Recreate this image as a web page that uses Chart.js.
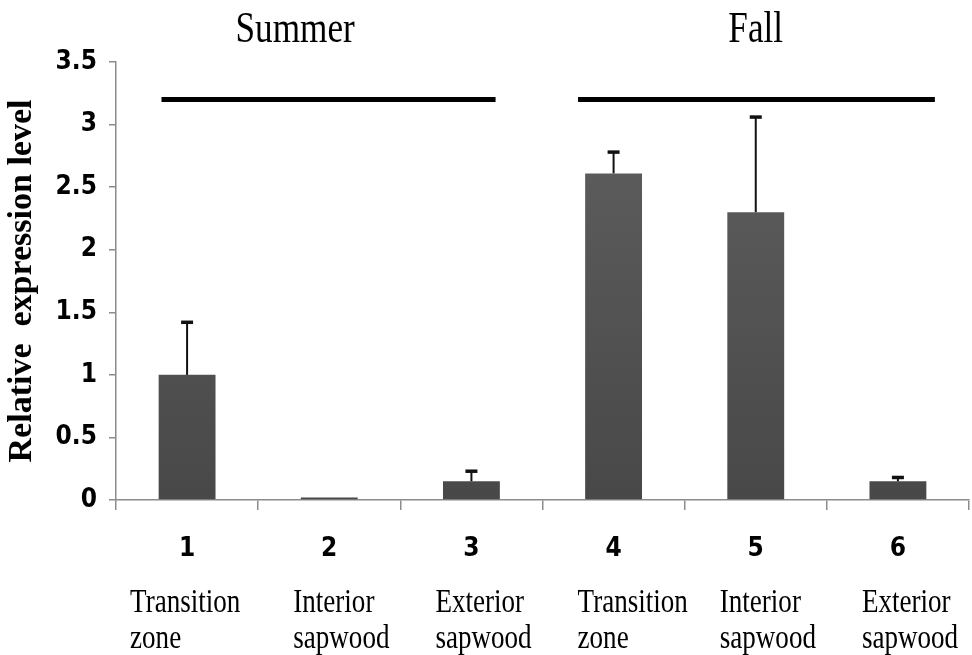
<!DOCTYPE html>
<html>
<head>
<meta charset="utf-8">
<title>Relative expression level</title>
<script src="https://cdn.jsdelivr.net/npm/chart.js@4"></script>
<style>
    body { margin: 0; background: #fff; }
    #chart { display: block; }
</style>
</head>
<body>
<canvas id="chart" width="972" height="655"></canvas>
<script>
// Data
const sampleNumbers = ['1', '2', '3', '4', '5', '6'];
const sampleNames = [
    ['Transition', 'zone'],
    ['Interior', 'sapwood'],
    ['Exterior', 'sapwood'],
    ['Transition', 'zone'],
    ['Interior', 'sapwood'],
    ['Exterior', 'sapwood']
];
const expressionLevel = [1.0, 0.02, 0.15, 2.61, 2.30, 0.15];
const errorPlus = [0.42, 0, 0.08, 0.17, 0.76, 0.03];
const yTicks = [0, 0.5, 1, 1.5, 2, 2.5, 3, 3.5];

// Season groups: bracket from / to (category units) and height (value units)
const seasonNames = ['Summer', 'Fall'];
const seasonFrom = [-0.18, 2.75];
const seasonTo = [2.17, 5.26];
const seasonLevel = [3.2, 3.2];
const seasonTitleAt = [0.76, 4.0];

document.addEventListener('DOMContentLoaded', function() {
    const ctx = document.getElementById('chart').getContext('2d');
    const narrowBold = '"Liberation Sans Narrow", "DejaVu Sans Condensed", sans-serif';
    const serif = '"Liberation Serif", "DejaVu Serif", serif';
    const axisColor = '#8c8c8c';

    // Draw text squeezed horizontally, like the original picture
    function squeezedText(c, text, x, y, sx, align) {
        c.save();
        c.translate(x, y);
        c.scale(sx, 1);
        c.textAlign = align;
        c.fillText(text, 0, 0);
        c.restore();
    }

    // Upper error bars with caps
    const errorBars = {
        id: 'errorBars',
        afterDatasetsDraw(chart) {
            const c = chart.ctx;
            const meta = chart.getDatasetMeta(0);
            const y = chart.scales.y;
            c.save();
            c.strokeStyle = '#111';
            meta.data.forEach(function(bar, i) {
                if (!errorPlus[i]) return;
                const top = y.getPixelForValue(expressionLevel[i] + errorPlus[i]);
                c.lineWidth = 2;
                c.beginPath();
                c.moveTo(bar.x, bar.y);
                c.lineTo(bar.x, top);
                c.stroke();
                c.lineWidth = 3.5;
                c.beginPath();
                c.moveTo(bar.x - 6, top);
                c.lineTo(bar.x + 6, top);
                c.stroke();
            });
            c.restore();
        }
    };

    // Season brackets and titles, plus the two-line sample names
    const annotations = {
        id: 'annotations',
        afterDraw(chart) {
            const c = chart.ctx;
            const x = chart.scales.x;
            const y = chart.scales.y;
            const area = chart.chartArea;
            c.save();
            c.fillStyle = '#000';
            c.strokeStyle = '#000';
            c.lineWidth = 5;
            seasonNames.forEach(function(name, i) {
                const py = y.getPixelForValue(seasonLevel[i]);
                c.beginPath();
                c.moveTo(x.getPixelForValue(seasonFrom[i]), py);
                c.lineTo(x.getPixelForValue(seasonTo[i]), py);
                c.stroke();
                c.font = '44px ' + serif;
                squeezedText(c, name, x.getPixelForValue(seasonTitleAt[i]), area.top - 20, 0.8, 'center');
            });

            c.font = '33px ' + serif;
            sampleNames.forEach(function(lines, i) {
                let left = x.getPixelForValue(i) - 36;
                if (i === 0) left -= 21;
                lines.forEach(function(line, k) {
                    squeezedText(c, line, left, area.bottom + 112 + k * 36, 0.82, 'left');
                });
            });
            c.restore();
        }
    };

    function barFill(context) {
        const area = context.chart.chartArea;
        if (!area) return '#555555';
        const g = context.chart.ctx.createLinearGradient(0, area.top, 0, area.bottom);
        g.addColorStop(0, '#616161');
        g.addColorStop(1, '#484848');
        return g;
    }

    new Chart(ctx, {
        type: 'bar',
        data: {
            labels: sampleNumbers,
            datasets: [{
                data: expressionLevel,
                backgroundColor: barFill,
                borderWidth: 0,
                barPercentage: 0.4,
                categoryPercentage: 1
            }]
        },
        options: {
            responsive: false,
            animation: false,
            layout: { padding: { top: 62, right: 3, left: 0, bottom: 0 } },
            plugins: {
                legend: { display: false },
                tooltip: { enabled: false }
            },
            scales: {
                x: {
                    offset: true,
                    afterFit: function(scale) { scale.height = 155; },
                    grid: {
                        offset: true,
                        drawOnChartArea: false,
                        drawTicks: true,
                        tickLength: 10,
                        color: axisColor,
                        lineWidth: 1.5
                    },
                    border: { color: axisColor, width: 1.5 },
                    ticks: {
                        color: '#000',
                        padding: 24,
                        font: { family: narrowBold, size: 26, weight: 'bold' }
                    }
                },
                y: {
                    min: 0,
                    max: 3.5,
                    afterFit: function(scale) { scale.width = 116; },
                    afterBuildTicks: function(scale) {
                        scale.ticks = yTicks.map(function(v) { return { value: v }; });
                    },
                    grid: {
                        drawOnChartArea: false,
                        drawTicks: true,
                        tickLength: 7,
                        color: axisColor,
                        lineWidth: 1.5
                    },
                    border: { color: axisColor, width: 1.5 },
                    ticks: {
                        color: '#000',
                        padding: 12,
                        font: { family: narrowBold, size: 26, weight: 'bold' },
                        callback: function(v) { return String(v); }
                    },
                    title: {
                        display: true,
                        text: 'Relative  expression level',
                        color: '#000',
                        padding: { top: 2, bottom: 0 },
                        font: { family: serif, size: 34, weight: 'bold' }
                    }
                }
            }
        },
        plugins: [errorBars, annotations]
    });
});
</script>
</body>
</html>
